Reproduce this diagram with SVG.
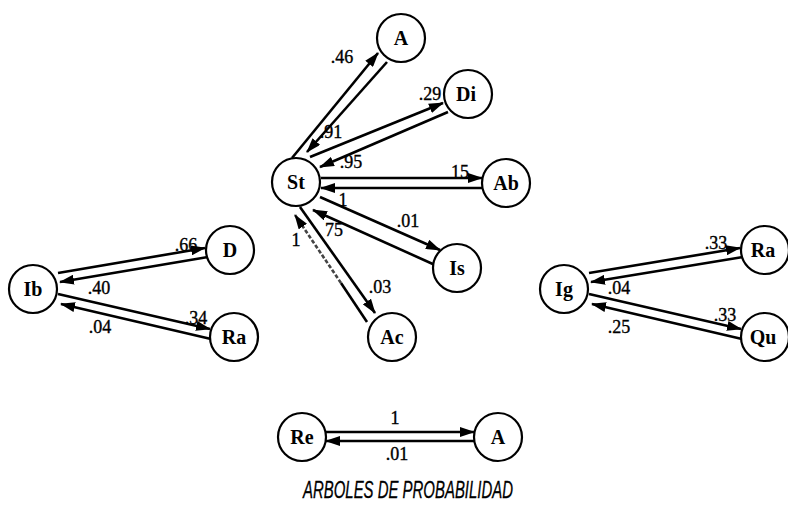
<svg xmlns="http://www.w3.org/2000/svg" width="788" height="505" viewBox="0 0 788 505">
  <defs>
    <marker id="head" viewBox="0 0 15 10" markerUnits="userSpaceOnUse" markerWidth="15" markerHeight="10" refX="14" refY="5" orient="auto">
      <path d="M0,0 L15,5 L0,10 z" fill="#000"/>
    </marker>
  </defs>
  <style>
    .node circle { fill: #fff; stroke: #000; stroke-width: 2.2; }
    .node text { font-family: "Liberation Serif", "Times New Roman", serif; font-size: 20px; font-weight: bold; text-anchor: middle; fill: #000; }
    .edges line { stroke: #000; stroke-width: 2.6; fill: none; }
    .edges line.arrow { marker-end: url(#head); }
    .edges line.faded { stroke: #444; stroke-dasharray: 4 2; }
    .lbl { font-family: "Liberation Serif", "Times New Roman", serif; font-size: 18px; text-anchor: middle; fill: #000; stroke: #000; stroke-width: 0.35; }
    .title { font-family: "Liberation Sans", Arial, sans-serif; font-style: italic; font-size: 23px; text-anchor: middle; fill: #000; stroke: #000; stroke-width: 0.3; }
  </style>
  <rect width="788" height="505" fill="#fff"/>

  <!-- connectors: each transition is its own arrow, kept to the left of its travel -->
  <g id="connectors" class="edges">
    <!-- St hub -->
    <line class="arrow" x1="292" y1="158" x2="378" y2="53"/>
    <line class="arrow" x1="387" y1="62" x2="307" y2="152"/>
    <line class="arrow" x1="310" y1="157" x2="443" y2="103"/>
    <line class="arrow" x1="448" y1="112" x2="320" y2="167"/>
    <line class="arrow" x1="321" y1="178" x2="482" y2="178"/>
    <line class="arrow" x1="482" y1="188" x2="321" y2="188"/>
    <line class="arrow" x1="320" y1="197" x2="440" y2="250"/>
    <line class="arrow" x1="435" y1="265" x2="313" y2="210"/>
    <line class="arrow" x1="300" y1="207" x2="375" y2="313"/>
    <line x1="367" y1="322" x2="341" y2="283"/>
    <line class="arrow faded" x1="341" y1="283" x2="295" y2="215"/>
    <!-- Ib cluster -->
    <line class="arrow" x1="58" y1="273" x2="205" y2="248"/>
    <line class="arrow" x1="208" y1="257" x2="60" y2="282"/>
    <line class="arrow" x1="58" y1="294" x2="210" y2="329"/>
    <line class="arrow" x1="211" y1="339" x2="61" y2="304"/>
    <!-- Ig cluster -->
    <line class="arrow" x1="589" y1="273" x2="740" y2="248"/>
    <line class="arrow" x1="743" y1="257" x2="591" y2="282"/>
    <line class="arrow" x1="589" y1="294" x2="741" y2="329"/>
    <line class="arrow" x1="742" y1="339" x2="592" y2="304"/>
    <!-- Re / A -->
    <line class="arrow" x1="326" y1="432" x2="474" y2="432"/>
    <line class="arrow" x1="474" y1="441" x2="326" y2="441"/>
  </g>

  <!-- transition probabilities -->
  <g id="edge-labels">
    <text class="lbl" x="342" y="63">.46</text>
    <text class="lbl" x="331" y="138">.91</text>
    <text class="lbl" x="430" y="100">.29</text>
    <text class="lbl" x="351" y="168">.95</text>
    <text class="lbl" x="460" y="178">15</text>
    <text class="lbl" x="343" y="206">1</text>
    <text class="lbl" x="408" y="227">.01</text>
    <text class="lbl" x="334" y="236">75</text>
    <text class="lbl" x="296" y="246">1</text>
    <text class="lbl" x="380" y="293">.03</text>
    <text class="lbl" x="186" y="251">.66</text>
    <text class="lbl" x="99" y="294">.40</text>
    <text class="lbl" x="196" y="324">.34</text>
    <text class="lbl" x="100" y="333">.04</text>
    <text class="lbl" x="716" y="249">.33</text>
    <text class="lbl" x="619" y="294">.04</text>
    <text class="lbl" x="725" y="321">.33</text>
    <text class="lbl" x="619" y="333">.25</text>
    <text class="lbl" x="395" y="424">1</text>
    <text class="lbl" x="397" y="460">.01</text>
  </g>

  <g id="node-St" class="node"><circle cx="296" cy="182" r="24"/><text x="296" y="189">St</text></g>
  <g id="node-A" class="node"><circle cx="401" cy="38" r="24"/><text x="401" y="45">A</text></g>
  <g id="node-Di" class="node"><circle cx="468" cy="94" r="24"/><text x="466" y="101">Di</text></g>
  <g id="node-Ab" class="node"><circle cx="506" cy="183" r="24"/><text x="506" y="190">Ab</text></g>
  <g id="node-Is" class="node"><circle cx="457" cy="268" r="24"/><text x="457" y="275">Is</text></g>
  <g id="node-Ac" class="node"><circle cx="392" cy="337" r="24"/><text x="392" y="344">Ac</text></g>

  <g id="node-Ib" class="node"><circle cx="33" cy="289" r="24"/><text x="33" y="296">Ib</text></g>
  <g id="node-D" class="node"><circle cx="230" cy="250" r="24"/><text x="230" y="257">D</text></g>
  <g id="node-Ra1" class="node"><circle cx="234" cy="337" r="24"/><text x="234" y="344">Ra</text></g>

  <g id="node-Ig" class="node"><circle cx="564" cy="289" r="24"/><text x="564" y="296">Ig</text></g>
  <g id="node-Ra2" class="node"><circle cx="765" cy="250" r="24"/><text x="763" y="257">Ra</text></g>
  <g id="node-Qu" class="node"><circle cx="765" cy="337" r="24"/><text x="763" y="344">Qu</text></g>

  <g id="node-Re" class="node"><circle cx="302" cy="437" r="24"/><text x="302" y="444">Re</text></g>
  <g id="node-A2" class="node"><circle cx="498" cy="437" r="24"/><text x="498" y="444">A</text></g>

  <text class="title" x="408" y="498" textLength="210" lengthAdjust="spacingAndGlyphs">ARBOLES DE PROBABILIDAD</text>
</svg>
